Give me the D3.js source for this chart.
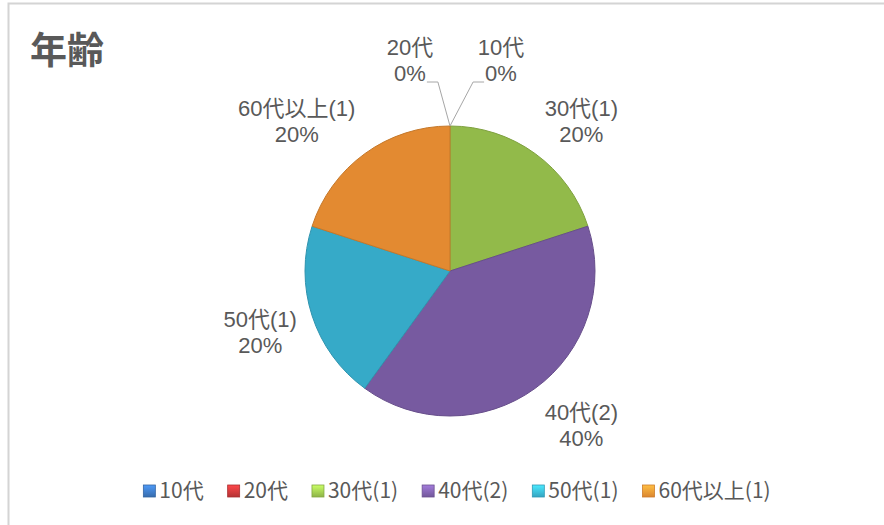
<!DOCTYPE html>
<html>
<head>
<meta charset="utf-8">
<script src="https://cdn.jsdelivr.net/npm/d3@7"></script>
<style>
  html, body { margin: 0; padding: 0; background: #fff; overflow: hidden; }
  text { font-family: "Noto Sans CJK JP", "Noto Sans", sans-serif; fill: #595959; }
  text.lbl { font-family: "Liberation Sans", "Noto Sans CJK JP", sans-serif; }
</style>
</head>
<body>
<script>
const width = 884;
const height = 525;

// data
const categories = ["10代", "20代", "30代(1)", "40代(2)", "50代(1)", "60代以上(1)"];
const counts = [0, 0, 1, 2, 1, 1];
const colors = ["#3f7cc8", "#d03a3c", "#a3cf52", "#8464b2", "#3cbddf", "#fd9a36"];
const title = "年齢";

const cx = 450, cy = 271, r = 145;

const svg = d3.select("body")
    .append("svg")
    .attr("width", width)
    .attr("height", height);

// chart frame (clipped at right/bottom like the screenshot)
svg.append("rect")
    .attr("x", 8.5).attr("y", 3.5)
    .attr("width", width + 20).attr("height", height + 20)
    .attr("fill", "#fff")
    .attr("stroke", "#d4d4d4")
    .attr("stroke-width", 2);

svg.append("text")
    .attr("x", 30).attr("y", 64)
    .style("font-size", "37px")
    .style("font-weight", "bold")
    .text(title);

const defs = svg.append("defs");
colors.forEach((c, i) => {
    const g = defs.append("radialGradient")
        .attr("id", "grad" + i)
        .attr("gradientUnits", "userSpaceOnUse")
        .attr("cx", cx).attr("cy", cy).attr("r", r);
    g.append("stop").attr("offset", "0%").attr("stop-color", c);
    g.append("stop").attr("offset", "91%").attr("stop-color", c);
    g.append("stop").attr("offset", "97%").attr("stop-color", d3.color(c).brighter(0.5));
    g.append("stop").attr("offset", "100%").attr("stop-color", d3.color(c).darker(0.3));

    const lg = defs.append("linearGradient")
        .attr("id", "lg" + i)
        .attr("x1", 0).attr("y1", 0).attr("x2", 0).attr("y2", 1);
    lg.append("stop").attr("offset", "0%").attr("stop-color", d3.color(c).brighter(0.6));
    lg.append("stop").attr("offset", "100%").attr("stop-color", d3.color(c).darker(0.4));
});

const total = d3.sum(counts);
const pie = d3.pie().sort(null).value(d => d.value);
const arcs = pie(categories.map((c, i) => ({ name: c, value: counts[i], i: i })));
const arc = d3.arc().innerRadius(0).outerRadius(r);
const fmt = d3.format(".0%");

const g = svg.append("g").attr("transform", `translate(${cx},${cy})`);

g.selectAll("path.slice")
    .data(arcs.filter(d => d.value > 0))
    .enter()
    .append("path")
    .attr("class", "slice")
    .attr("d", arc)
    .attr("fill", d => `url(#grad${d.data.i})`)
    .attr("stroke", d => d3.color(colors[d.data.i]).darker(0.7))
    .attr("stroke-width", 1);

// data labels, one text per line
const fontSize = 22, lineGap = 26;
function drawLabel(d) {
    const lg = g.append("g");
    lg.append("text").attr("class", "lbl")
        .attr("text-anchor", "middle")
        .style("font-size", fontSize + "px")
        .attr("x", 0).attr("y", 18).text(d.data.name);
    lg.append("text").attr("class", "lbl")
        .attr("text-anchor", "middle")
        .style("font-size", fontSize + "px")
        .attr("x", 0).attr("y", 18 + lineGap).text(fmt(d.value / total));
    return lg;
}

const pad = 16, boxH = 50;
arcs.filter(d => d.value > 0).forEach(d => {
    const a = (d.startAngle + d.endAngle) / 2;
    const px = Math.sin(a) * (r + pad);
    const py = -Math.cos(a) * (r + pad);
    const lg = drawLabel(d);
    const w = lg.node().getBBox().width;
    const lx = px + Math.sign(Math.sin(a)) * w / 2;
    const ly = py - Math.cos(a) * boxH / 2 + (Math.cos(a) < 0 ? 6 : 2);
    lg.attr("transform", `translate(${lx},${ly - boxH / 2})`);
});

// zero slices: labels pushed aside with leader lines
const zeroSide = { 0: 1, 1: -1 };
arcs.filter(d => d.value === 0).forEach(d => {
    const side = zeroSide[d.data.i];
    const lg = drawLabel(d);
    const lx = side > 0 ? 51 : -40;
    const yTop = -r - 89;
    lg.attr("transform", `translate(${lx},${yTop})`);
    const pct = lg.select("text:nth-child(2)").node().getComputedTextLength();
    const ex = lx - side * (pct / 2 + 1);
    const ey = yTop + 18 + lineGap + 1;
    const a = d.startAngle;
    g.append("path")
        .attr("d", d3.line()([
            [Math.sin(a) * r, -Math.cos(a) * r],
            [ex - side * 11, ey],
            [ex, ey]
        ]))
        .attr("fill", "none")
        .attr("stroke", "#a6a6a6")
        .attr("stroke-width", 1);
});

// legend
const legend = svg.append("g");
const legY = 491, sq = 12, gapText = 4, gapItem = 24;
let x = 0;
categories.forEach((c, i) => {
    const it = legend.append("g");
    it.append("rect")
        .attr("x", 0).attr("y", legY - sq / 2)
        .attr("width", sq).attr("height", sq)
        .attr("fill", `url(#lg${i})`)
        .attr("stroke", d3.color(colors[i]).darker(0.6))
        .attr("stroke-width", 0.8);
    const t = it.append("text")
        .attr("x", sq + gapText).attr("y", legY + 7)
        .style("font-size", "21px")
        .text(c);
    const w = sq + gapText + t.node().getComputedTextLength();
    it.attr("transform", `translate(${x},0)`);
    x += w + gapItem;
});
const legW = x - gapItem;
legend.attr("transform", `translate(${457 - legW / 2},0)`);
</script>
</body>
</html>
